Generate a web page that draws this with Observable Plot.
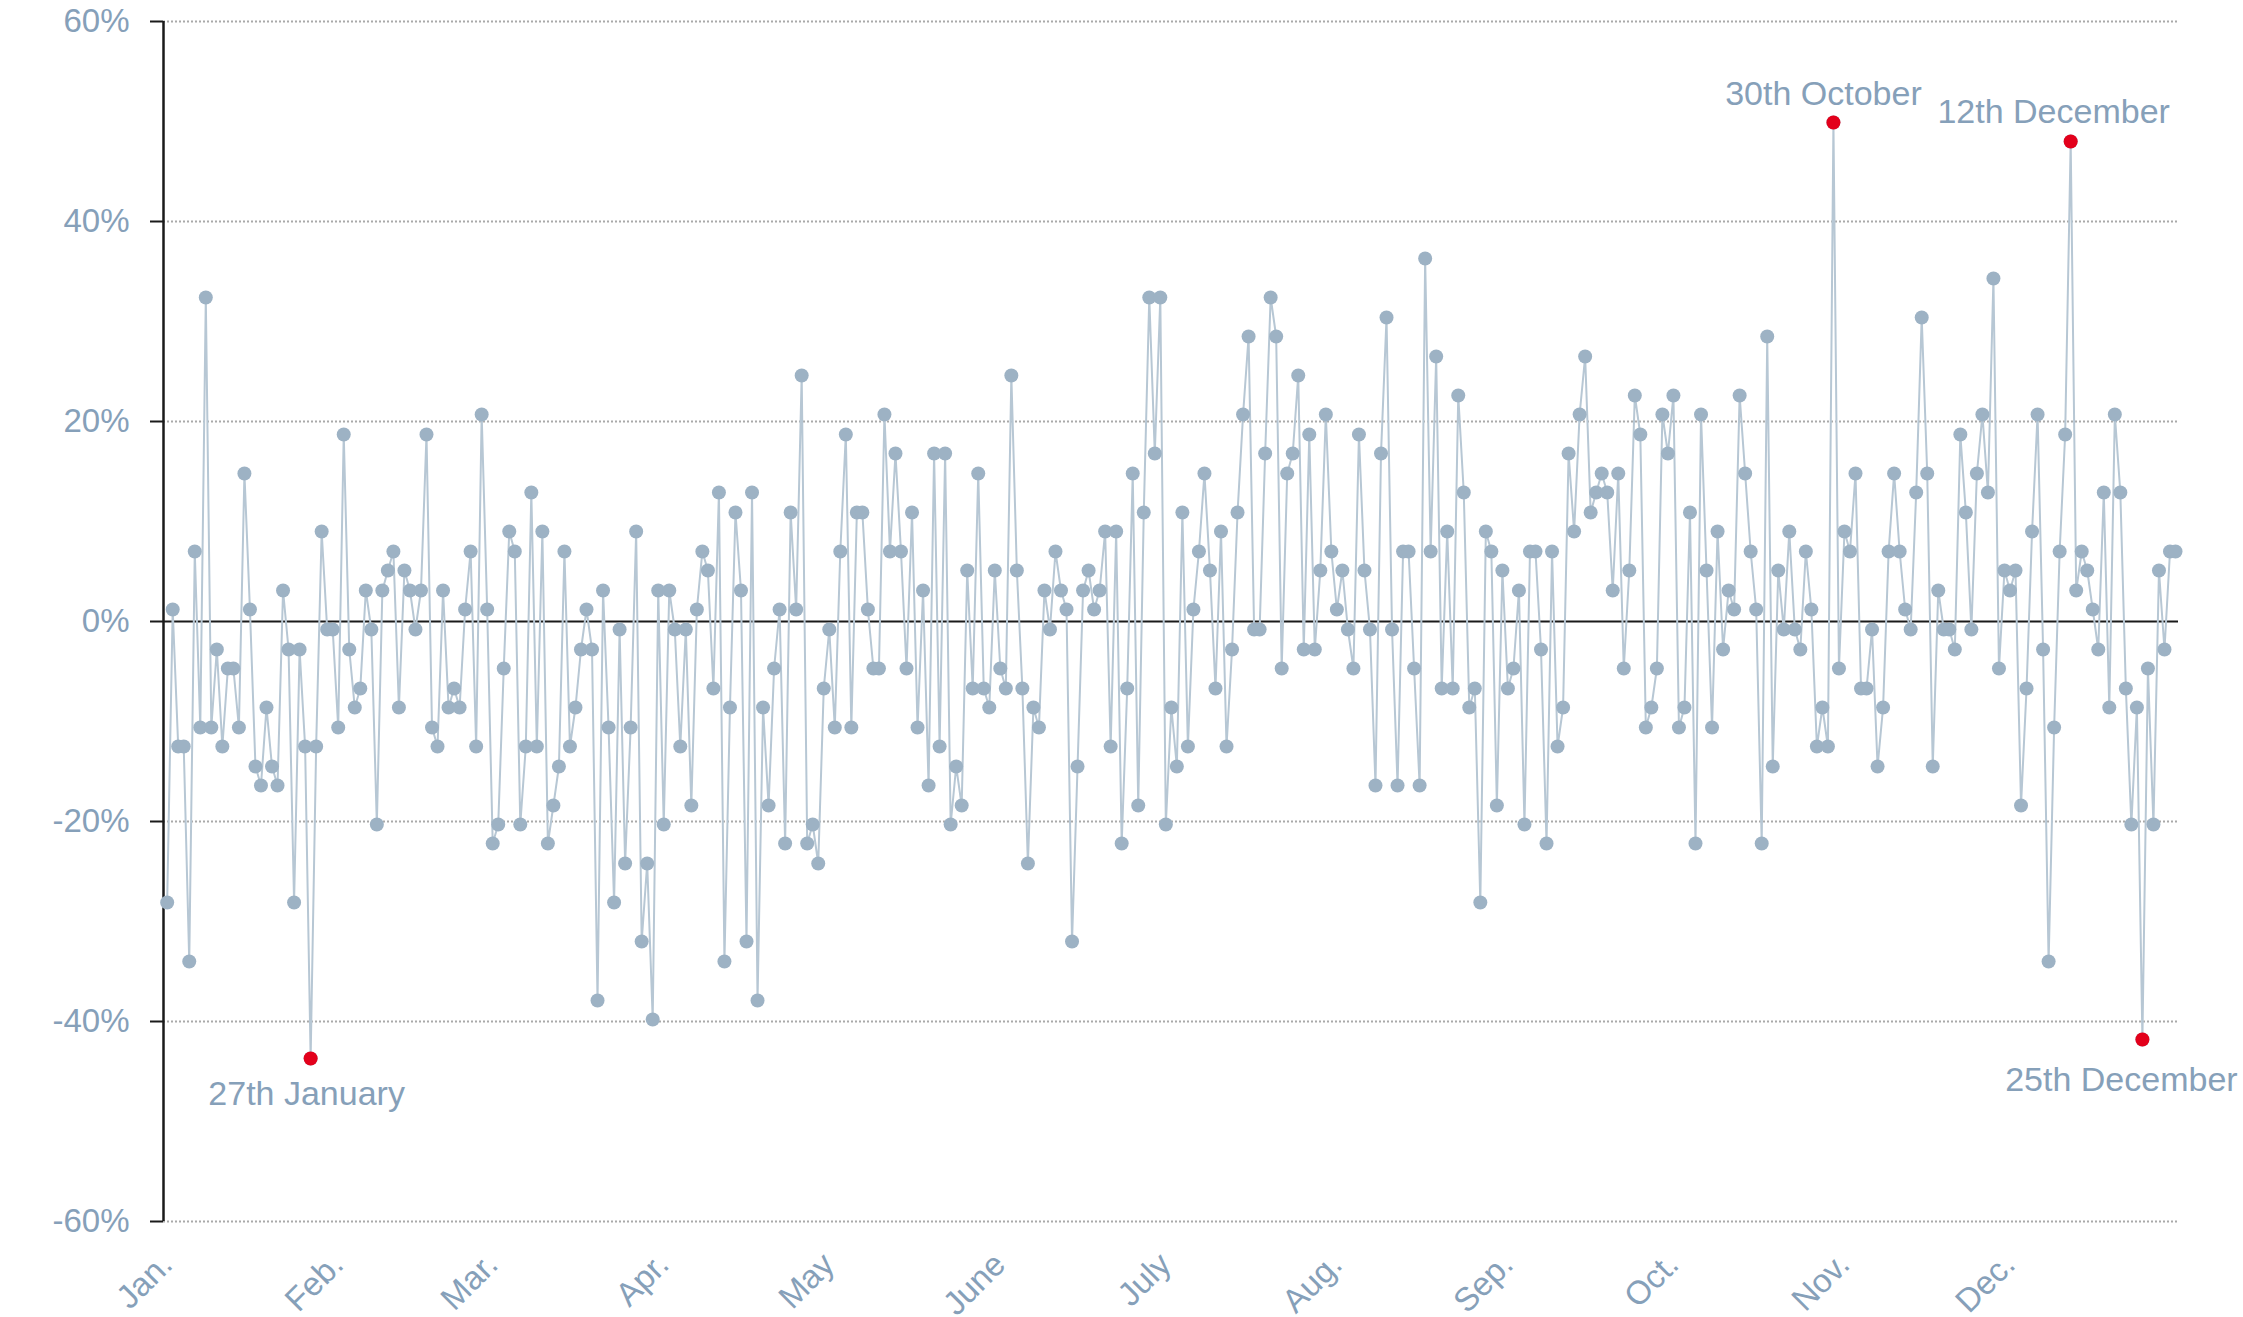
<!DOCTYPE html>
<html><head><meta charset="utf-8">
<script src="https://cdn.jsdelivr.net/npm/d3@7"></script>
<script src="https://cdn.jsdelivr.net/npm/@observablehq/plot@0.6"></script>
<style>
html,body{margin:0;padding:0;background:#fff;}
#chart{width:2243px;height:1317px;overflow:hidden;}
</style></head><body><div id="chart"></div>
<script>
const year = 2019;
const jan = [-28.1, 1.2, -12.5, -12.5, -34.0, 7.0, -10.6, 32.4, -10.6, -2.8, -12.5, -4.7, -4.7, -10.6, 14.8, 1.2, -14.5, -16.4, -8.6, -14.5, -16.4, 3.1, -2.8, -28.1, -2.8, -12.5, -43.7, -12.5, 9.0, -0.8, -0.8];
const feb = [-10.6, 18.7, -2.8, -8.6, -6.7, 3.1, -0.8, -20.3, 3.1, 5.1, 7.0, -8.6, 5.1, 3.1, -0.8, 3.1, 18.7, -10.6, -12.5, 3.1, -8.6, -6.7, -8.6, 1.2, 7.0, -12.5, 20.7, 1.2];
const mar = [-22.2, -20.3, -4.7, 9.0, 7.0, -20.3, -12.5, 12.9, -12.5, 9.0, -22.2, -18.4, -14.5, 7.0, -12.5, -8.6, -2.8, 1.2, -2.8, -37.9, 3.1, -10.6, -28.1, -0.8, -24.2, -10.6, 9.0, -32.0, -24.2, -39.8, 3.1];
const apr = [-20.3, 3.1, -0.8, -12.5, -0.8, -18.4, 1.2, 7.0, 5.1, -6.7, 12.9, -34.0, -8.6, 10.9, 3.1, -32.0, 12.9, -37.9, -8.6, -18.4, -4.7, 1.2, -22.2, 10.9, 1.2, 24.6, -22.2, -20.3, -24.2, -6.7];
const may = [-0.8, -10.6, 7.0, 18.7, -10.6, 10.9, 10.9, 1.2, -4.7, -4.7, 20.7, 7.0, 16.8, 7.0, -4.7, 10.9, -10.6, 3.1, -16.4, 16.8, -12.5, 16.8, -20.3, -14.5, -18.4, 5.1, -6.7, 14.8, -6.7, -8.6, 5.1];
const jun = [-4.7, -6.7, 24.6, 5.1, -6.7, -24.2, -8.6, -10.6, 3.1, -0.8, 7.0, 3.1, 1.2, -32.0, -14.5, 3.1, 5.1, 1.2, 3.1, 9.0, -12.5, 9.0, -22.2, -6.7, 14.8, -18.4, 10.9, 32.4, 16.8, 32.4];
const jul = [-20.3, -8.6, -14.5, 10.9, -12.5, 1.2, 7.0, 14.8, 5.1, -6.7, 9.0, -12.5, -2.8, 10.9, 20.7, 28.5, -0.8, -0.8, 16.8, 32.4, 28.5, -4.7, 14.8, 16.8, 24.6, -2.8, 18.7, -2.8, 5.1, 20.7, 7.0];
const aug = [1.2, 5.1, -0.8, -4.7, 18.7, 5.1, -0.8, -16.4, 16.8, 30.4, -0.8, -16.4, 7.0, 7.0, -4.7, -16.4, 36.3, 7.0, 26.5, -6.7, 9.0, -6.7, 22.6, 12.9, -8.6, -6.7, -28.1, 9.0, 7.0, -18.4, 5.1];
const sep = [-6.7, -4.7, 3.1, -20.3, 7.0, 7.0, -2.8, -22.2, 7.0, -12.5, -8.6, 16.8, 9.0, 20.7, 26.5, 10.9, 12.9, 14.8, 12.9, 3.1, 14.8, -4.7, 5.1, 22.6, 18.7, -10.6, -8.6, -4.7, 20.7, 16.8];
const oct = [22.6, -10.6, -8.6, 10.9, -22.2, 20.7, 5.1, -10.6, 9.0, -2.8, 3.1, 1.2, 22.6, 14.8, 7.0, 1.2, -22.2, 28.5, -14.5, 5.1, -0.8, 9.0, -0.8, -2.8, 7.0, 1.2, -12.5, -8.6, -12.5, 49.9, -4.7];
const nov = [9.0, 7.0, 14.8, -6.7, -6.7, -0.8, -14.5, -8.6, 7.0, 14.8, 7.0, 1.2, -0.8, 12.9, 30.4, 14.8, -14.5, 3.1, -0.8, -0.8, -2.8, 18.7, 10.9, -0.8, 14.8, 20.7, 12.9, 34.3, -4.7, 5.1];
const dec = [3.1, 5.1, -18.4, -6.7, 9.0, 20.7, -2.8, -34.0, -10.6, 7.0, 18.7, 48.0, 3.1, 7.0, 5.1, 1.2, -2.8, 12.9, -8.6, 20.7, 12.9, -6.7, -20.3, -8.6, -41.8, -4.7, -20.3, 5.1, -2.8, 7.0, 7.0];

const monthLabels = ["Jan.", "Feb.", "Mar.", "Apr.", "May", "June", "July", "Aug.", "Sep.", "Oct.", "Nov.", "Dec."];
const yTicks = [-60, -40, -20, 0, 20, 40, 60];
const highlightDates = ["2019-01-27", "2019-10-30", "2019-12-12", "2019-12-25"];
const highlightLabels = ["27th January", "30th October", "12th December", "25th December"];

const values = [].concat(jan, feb, mar, apr, may, jun, jul, aug, sep, oct, nov, dec);
const data = values.map((v, i) => ({date: new Date(Date.UTC(year, 0, 1 + i)), value: v}));
const monthStarts = monthLabels.map((_, m) => new Date(Date.UTC(year, m, 1)));
const hl = highlightDates.map((s, i) => {
  const d = new Date(s + "T00:00:00Z");
  const row = data.find(r => +r.date === +d);
  return {date: d, value: row.value, label: highlightLabels[i]};
});

const x0 = new Date(Date.UTC(year - 1, 11, 31, 8));
const x1 = new Date(Date.UTC(year, 11, 31, 13));
const textColor = "#86a0b9";
const font = "'Liberation Sans', Arial, Helvetica, sans-serif";
const labelOffsets = [{dx: -4, dy: 36}, {dx: -10, dy: -28}, {dx: -17, dy: -29}, {dx: -21, dy: 41}];

const chart = Plot.plot({
  width: 2243, height: 1317,
  marginTop: 21, marginBottom: 96, marginLeft: 163, marginRight: 65,
  style: {fontFamily: font, background: "#fff", overflow: "visible"},
  x: {type: "utc", domain: [x0, x1], axis: null},
  y: {domain: [-60, 60], axis: null},
  marks: [
    Plot.ruleY(yTicks.filter(t => t !== 0), {stroke: "#a9a9a9", strokeWidth: 2, strokeDasharray: "2,2"}),
    Plot.ruleY([0], {stroke: "#1a1a1a", strokeWidth: 2}),
    Plot.ruleX([x0], {y1: -60, y2: 60, stroke: "#1a1a1a", strokeWidth: 2.5}),
    Plot.axisY(yTicks, {anchor: "left", label: null, tickSize: 13, tickPadding: 21, tickFormat: d => d + "%", fontSize: 33, fill: textColor, stroke: "#1a1a1a", strokeWidth: 2}),
    Plot.line(data, {x: "date", y: "value", stroke: "#b7c7d4", strokeWidth: 2}),
    Plot.dot(data, {x: "date", y: "value", r: 7, fill: "#9db2c4"}),
    Plot.dot(hl, {x: "date", y: "value", r: 7, fill: "#e3001b"}),
    ...hl.map((h, i) => Plot.text([h], {x: "date", y: "value", text: "label", dx: labelOffsets[i].dx, dy: labelOffsets[i].dy, fontSize: 34, fill: textColor})),
    Plot.text(monthStarts, {x: d => d, frameAnchor: "bottom", text: (d, i) => monthLabels[i], rotate: -45, textAnchor: "end", dx: 7, dy: 45, fontSize: 33, fill: textColor})
  ]
});
document.getElementById("chart").appendChild(chart);
</script>
</body></html>
